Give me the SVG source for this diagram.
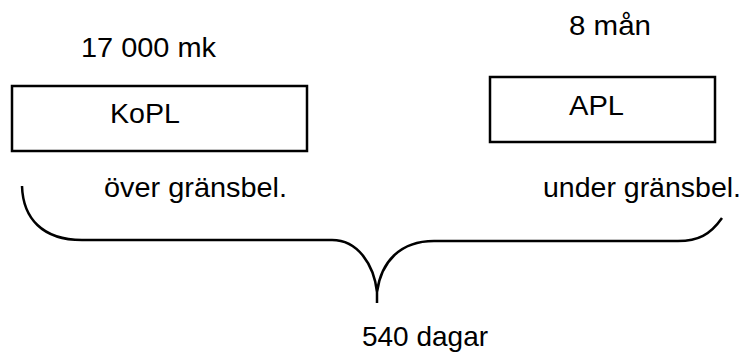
<svg xmlns="http://www.w3.org/2000/svg" width="746" height="352" viewBox="0 0 746 352">
<style>
text{font-family:"Liberation Sans",Arial,sans-serif;font-size:28px;fill:#000}
.box{fill:#fff;stroke:#000;stroke-width:2.5}
.br{fill:none;stroke:#000;stroke-width:2.5}
</style>
<rect width="746" height="352" fill="#fff"/>
<g id="kopl">
<rect class="box" x="12" y="86" width="295" height="65"/>
<text x="110" y="123" textLength="70" lengthAdjust="spacingAndGlyphs">KoPL</text>
</g>
<g id="apl">
<rect class="box" x="490" y="77" width="225" height="65"/>
<text x="569" y="115" textLength="55" lengthAdjust="spacingAndGlyphs">APL</text>
</g>
<g id="labels">
<text x="81" y="57" textLength="135" lengthAdjust="spacingAndGlyphs">17 000 mk</text>
<text x="569" y="35" textLength="82" lengthAdjust="spacingAndGlyphs">8 mån</text>
<text x="104" y="197" textLength="183" lengthAdjust="spacingAndGlyphs">över gränsbel.</text>
<text x="543" y="197" textLength="198" lengthAdjust="spacingAndGlyphs">under gränsbel.</text>
<text x="362" y="346" textLength="126" lengthAdjust="spacingAndGlyphs">540 dagar</text>
</g>
<g id="connectors">
<path class="br" d="M22,186 C23,218 42,240 82,240 L332,240 C358,240 374,265 377,292 L377,303 M377,292 C381,262 400,241 434,241 L678,241 C698,241 710,235 722,218"/>
</g>
</svg>
